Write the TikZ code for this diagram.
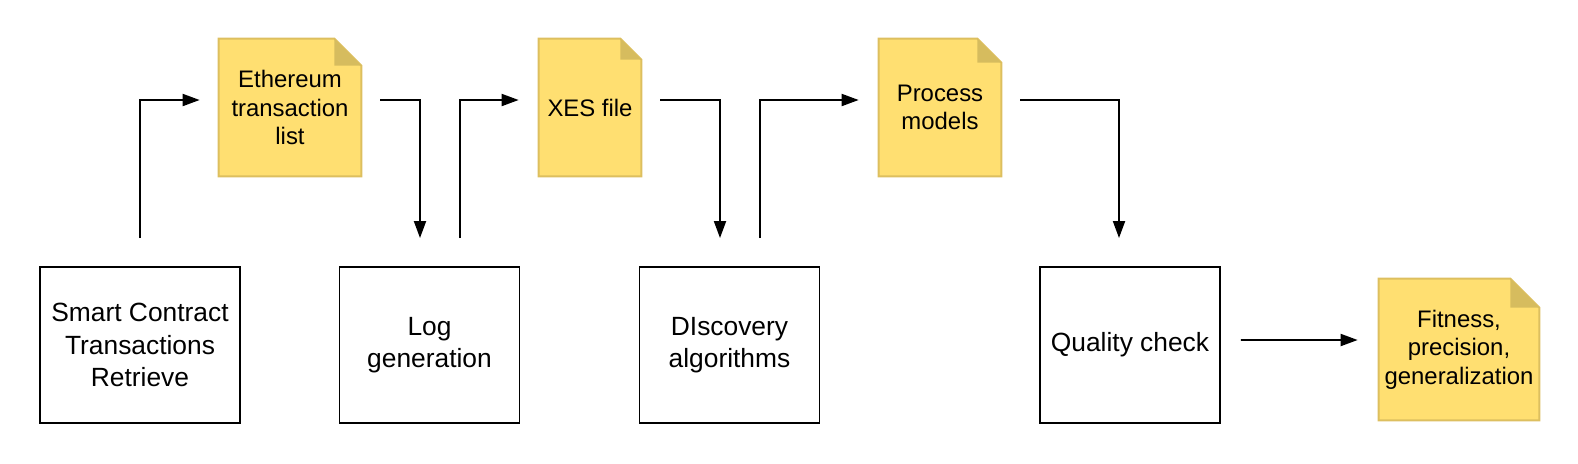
\documentclass[tikz,border=0pt]{standalone}
\usepackage{fontspec}
\setmainfont{Liberation Sans}
\usetikzlibrary{arrows.meta, backgrounds}

\definecolor{docfill}{HTML}{FFDF71}
\definecolor{docline}{HTML}{DDBF5F}
\definecolor{docfold}{HTML}{D6BC5E}

\begin{document}
\begin{tikzpicture}[
  stage/.style={rectangle, draw, line width=1.1pt, minimum height=3.12cm, inner sep=0pt, align=center, font=\fontsize{15}{18.5}\selectfont},
  doc/.style={rectangle, minimum height=2.74cm, inner sep=0pt, align=center, font=\fontsize{13.6}{16.3}\selectfont},
  flow/.style={-{Triangle[length=3.4mm, width=2.4mm]}, line width=1.1pt}]
  \useasboundingbox (0,0) rectangle (31.56,-9.26);
  \node[stage, minimum width=4cm]   (retrieve) at (2.8,-6.9)   {Smart Contract\\Transactions\\Retrieve};
  \node[stage, minimum width=3.6cm] (loggen)   at (8.59,-6.9)  {Log\\generation};
  \node[stage, minimum width=3.6cm] (discover) at (14.59,-6.9) {DIscovery\\algorithms};
  \node[stage, minimum width=3.6cm] (check)    at (22.6,-6.9)  {Quality check};
  \node[doc, minimum width=2.84cm] (tx)  at (5.8,-2.15)  {Ethereum\\transaction\\list};
  \node[doc, minimum width=2.04cm] (xes) at (11.8,-2.15) {XES file};
  \node[doc, minimum width=2.44cm] (pm)  at (18.8,-2.15) {Process\\models};
  \node[doc, minimum width=3.2cm, minimum height=2.82cm] (metrics) at (29.18,-6.99) {Fitness,\\precision,\\generalization};
  % dog-eared sheets behind the document texts
  \begin{scope}[on background layer]
    \foreach \d/\f in {tx/0.54, xes/0.42, pm/0.48, metrics/0.58} {
      \filldraw[fill=docfill, draw=docline, line width=1.1pt] (\d.north west) -- ([xshift=-\f cm]\d.north east)
        -- ([yshift=-\f cm]\d.north east) -- (\d.south east) -- (\d.south west) -- cycle;
      \fill[docfold] ([xshift=-\f cm]\d.north east) -- ([xshift=-\f cm, yshift=-\f cm]\d.north east)
        -- ([yshift=-\f cm]\d.north east) -- cycle;
    }
  \end{scope}
  \draw[flow] ([yshift=5.6mm]retrieve.north) |- ([xshift=-3.8mm, yshift=1.5mm]tx.west);
  \draw[flow] ([xshift=3.8mm, yshift=1.5mm]tx.east) -| ([xshift=-1.9mm, yshift=5.6mm]loggen.north);
  \draw[flow] ([xshift=6.1mm, yshift=5.6mm]loggen.north) |- ([xshift=-4mm, yshift=1.5mm]xes.west);
  \draw[flow] ([xshift=3.8mm, yshift=1.5mm]xes.east) -| ([xshift=-1.9mm, yshift=5.6mm]discover.north);
  \draw[flow] ([xshift=6.1mm, yshift=5.6mm]discover.north) |- ([xshift=-4mm, yshift=1.5mm]pm.west);
  \draw[flow] ([xshift=3.8mm, yshift=1.5mm]pm.east) -| ([xshift=-2.2mm, yshift=5.6mm]check.north);
  \draw[flow] ([xshift=4mm, yshift=1mm]check.east) -- ([xshift=-4.2mm, yshift=1.9mm]metrics.west);
\end{tikzpicture}
\end{document}
